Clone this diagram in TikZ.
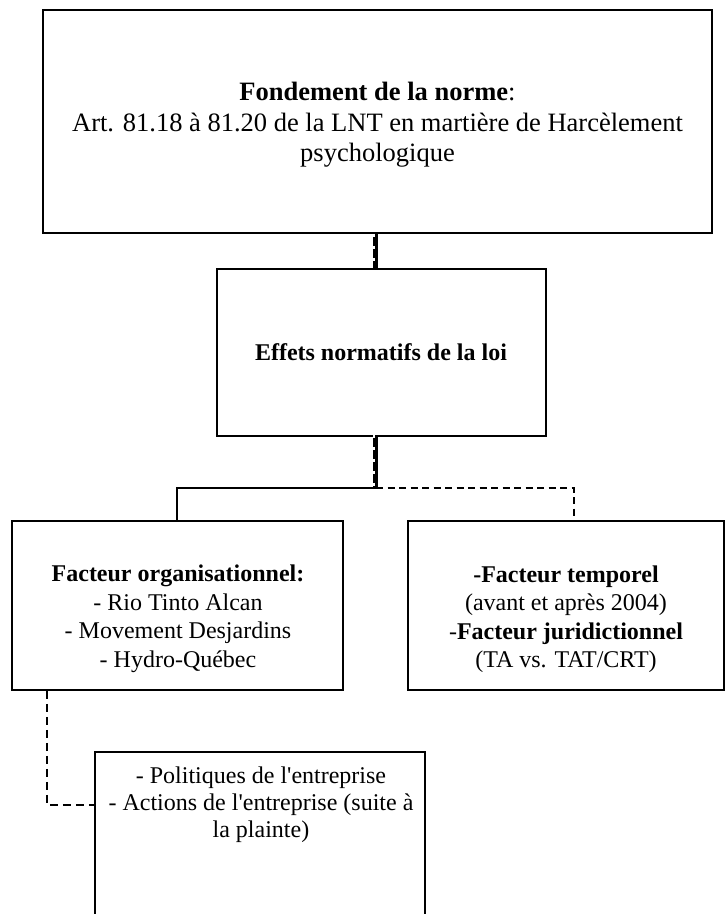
\documentclass[tikz,border=0pt]{standalone}
\usepackage{fontspec}
\setmainfont{Liberation Serif}[Ligatures=TeXOff]
\begin{document}
\begin{tikzpicture}[x=1pt,y=-1pt,
  box/.style={draw, line width=1.8pt, rectangle, inner sep=0pt},
  txt/.style={align=center, inner sep=0pt, font=\fontsize{24}{28.5}\selectfont},
  conn/.style={line width=2.6pt},
  dconn/.style={line width=2.7pt, dash pattern=on 7pt off 4.5pt},
  wdash/.style={white, line width=1.3pt, dash pattern=on 3pt off 9pt}]
\useasboundingbox (0,0) rectangle (725,914);
\node[box, minimum width=669pt, minimum height=223pt] (top) at (377.5,121.5) {};
\node[txt, font=\fontsize{26.5}{30.5}\selectfont] (toptext) at (377.5,125)
  {\textbf{Fondement de la norme}:\\Art. 81.18 à 81.20 de la LNT en martière de Harcèlement\\psychologique};
\node[box, minimum width=329pt, minimum height=167pt] (mid) at (381.5,352.5) {};
\node[txt] (midtext) at (381,352) {\textbf{Effets normatifs de la loi}};
\node[box, minimum width=331pt, minimum height=169pt] (left) at (177.5,605.5) {};
\node[txt] (lefttext) at (178,619)
  {\textbf{Facteur organisationnel:}\\- Rio Tinto Alcan\\- Movement Desjardins\\- Hydro-Québec};
\node[box, minimum width=316pt, minimum height=169pt] (right) at (566,605.5) {};
\node[txt] (righttext) at (566,619)
  {\textbf{-Facteur temporel}\\(avant et après 2004)\\-\textbf{Facteur juridictionnel}\\(TA vs. TAT/CRT)};
\node[box, minimum width=330pt, minimum height=180pt] (bot) at (260,842) {};
\node[txt, font=\fontsize{24}{27}\selectfont] (btext) at (261,805)
  {- Politiques de l'entreprise\\- Actions de l'entreprise (suite à\\la plainte)};
\coordinate (j) at (376,488);
% top -> mid (solid with dashed line beside)
\draw[conn, line width=5pt] (top.south -| 375.5,0) -- (mid.north -| 375.5,0);
\draw[wdash] (top.south -| 374,0) -- (mid.north -| 374,0);
% mid -> junction
\draw[conn, line width=5pt] (mid.south -| 375.5,0) -- (j -| 375.5,0);
\draw[wdash] ([yshift=2pt]mid.south -| 374,0) -- (j -| 374,0);
\draw[conn] (j) -| (left.north -| 177,0);
\draw[dconn] (j) -| (right.north -| 574,0);
% left -> bottom
\draw[dconn, dash pattern=on 8pt off 5pt] (left.south -| 47,0) |- (bot.west |- btext);
\end{tikzpicture}
\end{document}
